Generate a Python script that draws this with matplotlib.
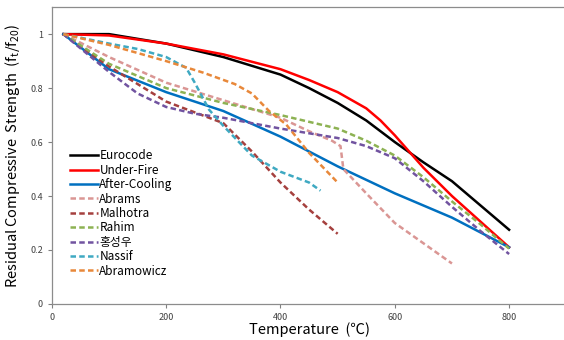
import matplotlib
matplotlib.use('Agg')
import matplotlib.pyplot as plt

plt.rcParams['font.family'] = ['Noto Sans CJK KR', 'DejaVu Sans']
plt.rcParams['mathtext.fontset'] = 'custom'
plt.rcParams['mathtext.rm'] = 'Noto Sans CJK KR'

# values
eurocode_t = [20, 100, 200, 300, 400, 450, 500, 550, 600, 650, 700, 750, 800]
eurocode_v = [1.0, 1.0, 0.965, 0.915, 0.85, 0.80, 0.745, 0.68, 0.60, 0.525, 0.455, 0.365, 0.275]

underfire_t = [20, 100, 200, 300, 400, 450, 500, 550, 575, 600, 625, 650, 700, 750, 800]
underfire_v = [1.0, 0.995, 0.965, 0.925, 0.87, 0.83, 0.785, 0.725, 0.68, 0.625, 0.565, 0.505, 0.40, 0.305, 0.21]

aftercool_t = [20, 100, 200, 300, 400, 500, 600, 700, 800]
aftercool_v = [1.0, 0.87, 0.785, 0.715, 0.62, 0.51, 0.41, 0.32, 0.21]

abrams_t = [20, 100, 200, 300, 400, 450, 490, 505, 510, 550, 600, 700]
abrams_v = [1.0, 0.915, 0.82, 0.755, 0.69, 0.64, 0.605, 0.585, 0.50, 0.41, 0.30, 0.15]

malhotra_t = [20, 100, 200, 250, 300, 350, 400, 450, 500]
malhotra_v = [1.0, 0.88, 0.75, 0.71, 0.67, 0.565, 0.45, 0.35, 0.26]

rahim_t = [20, 100, 200, 300, 400, 500, 550, 600, 650, 700, 750, 800]
rahim_v = [1.0, 0.89, 0.80, 0.745, 0.70, 0.65, 0.605, 0.55, 0.47, 0.38, 0.295, 0.205]

hong_t = [20, 100, 150, 200, 250, 300, 400, 500, 550, 600, 650, 700, 750, 800]
hong_v = [1.0, 0.86, 0.78, 0.73, 0.705, 0.69, 0.65, 0.615, 0.585, 0.54, 0.455, 0.36, 0.27, 0.185]

nassif_t = [20, 100, 150, 200, 235, 250, 275, 300, 325, 350, 400, 450, 470]
nassif_v = [1.0, 0.965, 0.945, 0.915, 0.875, 0.82, 0.72, 0.66, 0.605, 0.55, 0.49, 0.45, 0.42]

abramowicz_t = [20, 100, 200, 265, 320, 350, 380, 410, 450, 500]
abramowicz_v = [1.0, 0.96, 0.90, 0.857, 0.815, 0.78, 0.715, 0.665, 0.56, 0.45]

series = [
    ('Eurocode', eurocode_t, eurocode_v, '#000000', '-'),
    ('Under-Fire', underfire_t, underfire_v, '#FF0000', '-'),
    ('After-Cooling', aftercool_t, aftercool_v, '#0070C0', '-'),
    ('Abrams', abrams_t, abrams_v, '#DA9694', '--'),
    ('Malhotra', malhotra_t, malhotra_v, '#A5403E', '--'),
    ('Rahim', rahim_t, rahim_v, '#8DB253', '--'),
    ('홍성우', hong_t, hong_v, '#7153A0', '--'),
    ('Nassif', nassif_t, nassif_v, '#3FA9C2', '--'),
    ('Abramowicz', abramowicz_t, abramowicz_v, '#E8883A', '--'),
]

fig = plt.figure(figsize=(5.64, 3.4), dpi=100)
ax = fig.add_axes([0.092, 0.106, 0.912, 0.873])

for name, t, v, color, ls in series:
    if ls == '-':
        ax.plot(t, v, color=color, lw=1.8, ls='-', label=name)
    else:
        ax.plot(t, v, color=color, lw=1.8, dashes=(2.2, 1.3), label=name)

ax.set_xlim(0, 900)
ax.set_ylim(0, 1.1)
ax.set_xticks([0, 200, 400, 600, 800])
ax.set_yticks([0, 0.2, 0.4, 0.6, 0.8, 1.0])
ax.set_yticklabels(['0', '0.2', '0.4', '0.6', '0.8', '1'])
ax.tick_params(colors='#808080', labelcolor='#404040', labelsize=6.5, length=3, width=0.8)

for s in ['left', 'bottom', 'top']:
    ax.spines[s].set_color('#8C8C8C')
    ax.spines[s].set_linewidth(0.9)
ax.spines['right'].set_visible(False)

ax.set_xlabel('Temperature  (℃)', fontsize=10.5, labelpad=0)
ax.set_ylabel(r'Residual Compressive  Strength  (f$_{\mathregular{t}}$/f$_{\mathregular{20}}$)',
              fontsize=10.5, labelpad=6)

leg = ax.legend(loc='center left', bbox_to_anchor=(0.035, 0.305), frameon=False,
                fontsize=8.5, handlelength=2.4, handletextpad=0.1,
                labelspacing=0.12, borderpad=0, borderaxespad=0)

fig.savefig('out.png', dpi=100)
